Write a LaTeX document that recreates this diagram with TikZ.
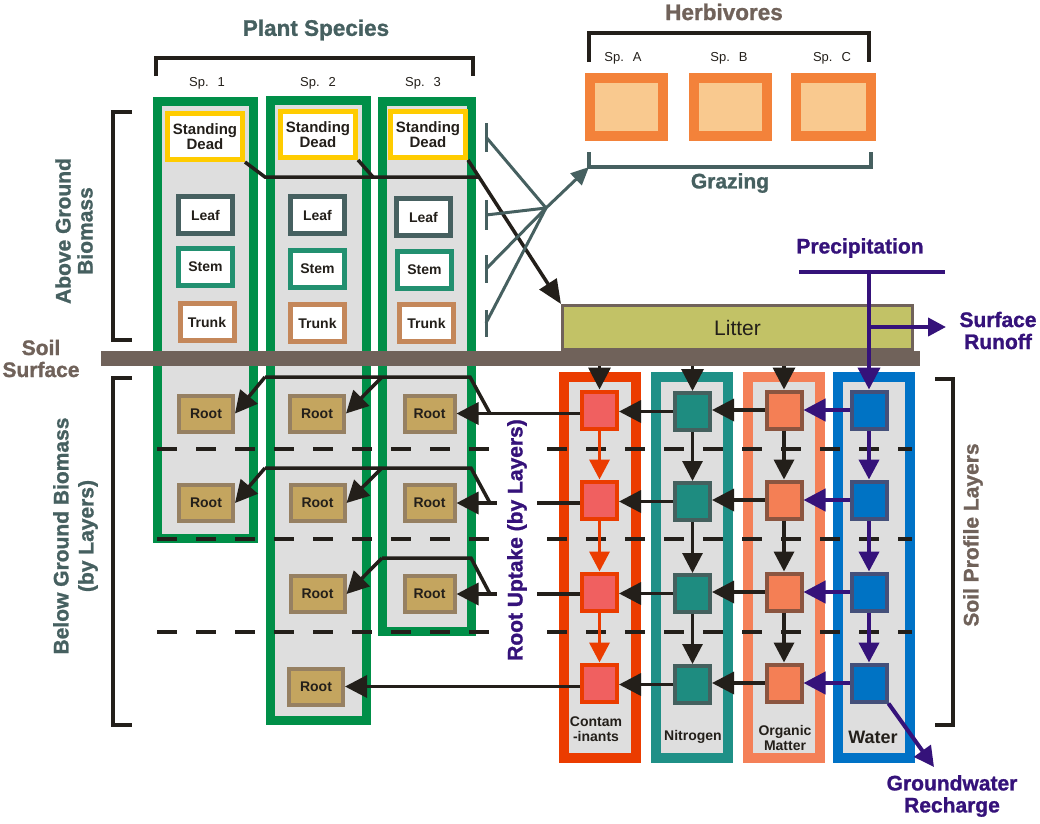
\documentclass[tikz,border=0pt]{standalone}
\usepackage{fontspec}
\setmainfont{Liberation Sans}
\newfontfamily\heavyfont[FakeBold=1.2]{Liberation Sans Bold}
\usetikzlibrary{arrows.meta}
\newcommand{\myfs}[2]{\fontsize{#1}{#2}\selectfont}
\definecolor{slate}{RGB}{70,96,96}
\definecolor{brgray}{RGB}{112,98,90}
\definecolor{purp}{RGB}{53,18,122}
\definecolor{pgreen}{RGB}{0,143,72}
\definecolor{lgray}{RGB}{222,222,222}
\definecolor{yel}{RGB}{255,204,0}
\definecolor{stemc}{RGB}{34,144,112}
\definecolor{trunkc}{RGB}{196,135,90}
\definecolor{rootfill}{RGB}{196,165,95}
\definecolor{rootbd}{RGB}{150,128,98}
\definecolor{horange}{RGB}{243,130,58}
\definecolor{hpeach}{RGB}{249,201,143}
\definecolor{litterc}{RGB}{194,194,102}
\definecolor{contc}{RGB}{235,60,0}
\definecolor{contbox}{RGB}{240,96,96}
\definecolor{nitc}{RGB}{31,144,135}
\definecolor{nitbox}{RGB}{30,140,128}
\definecolor{nitbd}{RGB}{68,96,94}
\definecolor{orgc}{RGB}{244,128,88}
\definecolor{orgbox}{RGB}{244,127,85}
\definecolor{orgbd}{RGB}{139,85,64}
\definecolor{watc}{RGB}{0,114,198}
\definecolor{watbox}{RGB}{0,115,196}
\definecolor{watbd}{RGB}{68,80,122}
\definecolor{ink}{RGB}{35,31,26}
\begin{document}
\begin{tikzpicture}[x=1pt,y=-1pt,
  bx/.style={draw, inner sep=0pt},
  pcol/.style={bx, draw=pgreen, fill=lgray, line width=9pt, minimum width=96pt},
  scol/.style={bx, fill=lgray, line width=10pt, minimum width=72pt, minimum height=381pt},
  sdbox/.style={bx, draw=yel, fill=white, line width=5pt, minimum width=75pt, minimum height=46pt, align=center, text=ink, font=\myfs{15}{15}\bfseries},
  lbox/.style={bx, fill=white, line width=5pt, minimum width=54pt, minimum height=37pt, text=ink, font=\myfs{14}{14}\bfseries},
  rbox/.style={bx, fill=rootfill, draw=rootbd, line width=4pt, minimum width=54pt, minimum height=36pt, text=ink, font=\myfs{14}{14}\bfseries},
  hbox/.style={bx, draw=horange, fill=hpeach, line width=10pt, minimum width=73pt, minimum height=58pt},
  sbox/.style={bx, line width=4pt, minimum width=35pt, minimum height=37pt},
  lab/.style={inner sep=0pt, align=center, text=ink, font=\myfs{14}{15}\bfseries},
  ttl/.style={inner sep=0pt, align=center, font=\heavyfont\myfs{21}{22}},
  spl/.style={inner sep=0pt, text=ink, font=\myfs{13}{13}},
  ln/.style={draw=ink, line width=3.5pt},
  arr/.style={ln, -{Triangle[length=22pt,width=22pt]}},
  redarr/.style={draw=contc, line width=3.5pt, -{Triangle[length=20pt,width=20pt]}},
  purpln/.style={draw=purp, line width=4pt},
  purparr/.style={purpln, -{Triangle[length=22pt,width=22pt]}},
  graz/.style={draw=slate, line width=3pt},
  brk/.style={draw=ink, line width=4pt},
  dsh/.style={draw=ink, line width=4pt, dash pattern=on 20pt off 19pt}
]
\useasboundingbox (0,0) rectangle (1040,823);

% plant columns
\node[pcol, minimum height=437pt] (pc1) at (205.5,320) {};
\node[pcol, minimum height=620pt] (pc2) at (318.5,410.5) {};
\node[pcol, minimum width=89pt, minimum height=530pt] (pc3) at (427,366.5) {};

% soil columns
\node[scol, draw=contc] (sc1) at (599.5,567) {};
\node[scol, draw=nitc] (sc2) at (692,567.5) {};
\node[scol, draw=orgc] (sc3) at (783.5,567.5) {};
\node[scol, draw=watc] (sc4) at (874,567.5) {};

% above ground boxes
\node[sdbox] (sd1) at (205,136.5) {Standing\\Dead};
\node[sdbox] (sd2) at (318,134.5) {Standing\\Dead};
\node[sdbox] (sd3) at (428,134.5) {Standing\\Dead};
\node[lbox, draw=slate] (lf1) at (205.5,215) {Leaf};
\node[lbox, draw=slate] (lf2) at (317.5,215) {Leaf};
\node[lbox, draw=slate] (lf3) at (423.5,217) {Leaf};
\node[lbox, draw=stemc] (st1) at (205.5,267) {Stem};
\node[lbox, draw=stemc] (st2) at (317.5,268.5) {Stem};
\node[lbox, draw=stemc] (st3) at (424.5,269.5) {Stem};
\node[lbox, draw=trunkc] (tr1) at (207,322) {Trunk};
\node[lbox, draw=trunkc] (tr2) at (317.5,323) {Trunk};
\node[lbox, draw=trunkc] (tr3) at (426.5,323) {Trunk};

% roots
\node[rbox] (r11) at (206,413.5) {Root};
\node[rbox] (r21) at (317,413.5) {Root};
\node[rbox, minimum width=50pt] (r31) at (429.5,413.5) {Root};
\node[rbox] (r12) at (206,503) {Root};
\node[rbox] (r22) at (317.5,503) {Root};
\node[rbox, minimum width=50pt] (r32) at (429.5,503) {Root};
\node[rbox] (r23) at (317.5,594) {Root};
\node[rbox, minimum width=50pt] (r33) at (429.5,594) {Root};
\node[rbox] (r24) at (316,686.5) {Root};

% herbivores
\node[hbox] (ha) at (626.5,107) {};
\node[hbox] (hb) at (730.5,107) {};
\node[hbox, minimum width=75pt] (hc) at (833.5,107) {};

% litter and soil surface
\node[bx, draw=brgray, fill=litterc, line width=3pt, minimum width=350pt, minimum height=44pt, text=ink, font=\myfs{21}{21}] (lit) at (737.5,327.5) {Litter};
\node[inner sep=0pt, fill=brgray, minimum width=819pt, minimum height=15pt] (bar) at (510.5,358.5) {};

% soil boxes
\foreach \i/\y in {1/410,2/500,3/592,4/683}{
  \node[sbox, draw=contc, fill=contbox] (c\i) at (599.5,\y) {};
  \node[sbox, draw=nitbd, fill=nitbox] (n\i) at (692.5,\y+1.5) {};
  \node[sbox, draw=orgbd, fill=orgbox] (o\i) at (784,\y) {};
  \node[sbox, draw=watbd, fill=watbox] (w\i) at (869,\y) {};
}

% soil labels
\node[lab] (lc) at (596,729.5) {Contam\\-inants};
\node[lab] (ln) at (693,737) {Nitrogen};
\node[lab] (lo) at (785,737.5) {Organic\\Matter};
\node[lab, font=\myfs{18}{18}\bfseries] (lw) at (873,737) {Water};

% layer dashed lines
\draw[dsh] (157,449) -- (912,449);
\draw[dsh] (157,539) -- (912,539);
\draw[dsh] (157,632) -- (912,632);

% brackets
\draw[brk] (156,76) -- (156,58) -- (473,58) -- (473,76);
\draw[brk] (589,62) -- (589,33) -- (869,33) -- (869,62);
\coordinate (gcorner) at (589,167);
\draw[draw=slate, line width=4pt] (589,152) -- (gcorner) -- (871,167) -- (871,152);
\draw[brk] (132,112) -- (113,112) -- (113,340) -- (132,340);
\draw[brk] (132,378) -- (113,378) -- (113,725) -- (132,725);
\draw[brk] (935,379) -- (953,379) -- (953,725) -- (935,725);

% standing dead to litter
\coordinate (sdk) at (265,177);
\coordinate (sdj) at (479,177);
\coordinate (sdk2) at (373,177);
\draw[ln] (sd1.south east) -- (sdk) -- (sdj);
\draw[ln] (sd2.south east) -- (sdk2);
\draw[ln, -{Triangle[length=24pt,width=20pt]}] (sd3.south east) -- (lit.north west);

% grazing
\coordinate (gb1) at (486,137);
\coordinate (gb2) at (486,215);
\coordinate (gb3) at (486,269);
\coordinate (gb4) at (486,323);
\coordinate (ghub) at (546,208);
\draw[graz] (486,123) -- (486,152);
\draw[graz] (486,200) -- (486,230);
\draw[graz] (486,255) -- (486,283);
\draw[graz] (486,310) -- (486,337);
\foreach \g in {gb1,gb2,gb3,gb4} \draw[graz] (\g) -- (ghub);
\draw[graz, -{Triangle[length=18pt,width=16pt]}] (ghub) -- (gcorner);

% precipitation and runoff
\coordinate (pl) at (799,272);
\coordinate (pr) at (945,272);
\coordinate (pj) at (869,272);
\coordinate (rj) at (869,327);
\coordinate (rtip) at (946,327);
\draw[purpln] (pl) -- (pr);
\draw[purparr] (pj) -- (w1.north);
\draw[purparr, -{Triangle[length=18pt,width=18pt]}] (rj) -- (rtip);

% litter into soil
\draw[arr] (c1.north |- bar.south) -- (c1.north);
\draw[arr] (n1.north |- bar.south) -- (n1.north);
\draw[arr] (o1.north |- bar.south) -- (o1.north);

% soil flows
\foreach \i in {1,2,3,4}{
  \draw[purparr] (w\i.west) -- (o\i.east);
  \draw[arr] (o\i.west) -- (n\i.east |- o\i.west);
  \draw[arr] (n\i.west) -- (c\i.east |- n\i.west);
}
\foreach \i/\j in {1/2,2/3,3/4}{
  \draw[redarr] (c\i.south) -- (c\j.north);
  \draw[arr, line width=3pt, -{Triangle[length=20pt,width=20pt]}] (n\i.south) -- (n\j.north);
  \draw[arr, -{Triangle[length=20pt,width=20pt]}] (o\i.south) -- (o\j.north);
  \draw[purparr, -{Triangle[length=20pt,width=20pt]}] (w\i.south) -- (w\j.north);
}
\coordinate (gwtip) at (934,767);
\draw[purparr, -{Triangle[length=20pt,width=20pt]}] (w4.south east) -- (gwtip);

% root uptake
\draw[arr] (c1.west |- r31.east) -- (r31.east);
\draw[arr] (c2.west |- r32.east) -- (r32.east);
\draw[arr] (c3.west |- r33.east) -- (r33.east);
\draw[arr] (c4.west |- r24.east) -- (r24.east);
\coordinate (b1a) at (490,413.5);
\coordinate (b1b) at (470,377);
\coordinate (b1c) at (382,377);
\coordinate (b1d) at (265,377);
\draw[ln] (b1a) -- (b1b) -- (b1d);
\draw[arr] (b1d) -- (r11.east);
\draw[arr] (b1c) -- (r21.east);
\coordinate (b2a) at (490,503);
\coordinate (b2b) at (471,468);
\coordinate (b2c) at (382,468);
\coordinate (b2d) at (265,468);
\draw[ln] (b2a) -- (b2b) -- (b2d);
\draw[arr] (b2d) -- (r12.east);
\draw[arr] (b2c) -- (r22.east);
\coordinate (b3a) at (490,594);
\coordinate (b3b) at (471,558);
\coordinate (b3c) at (382,558);
\draw[ln] (b3a) -- (b3b) -- (b3c);
\draw[arr] (b3c) -- (r23.east);

% species labels
\node[spl] (sp1) at (207,83) {Sp.\hspace{9pt}1};
\node[spl] (sp2) at (318,83) {Sp.\hspace{9pt}2};
\node[spl] (sp3) at (423,83) {Sp.\hspace{9pt}3};
\node[spl] (spa) at (623,58) {Sp.\hspace{9pt}A};
\node[spl] (spb) at (729,58) {Sp.\hspace{9pt}B};
\node[spl] (spc) at (832,58) {Sp.\hspace{9pt}C};

% titles
\node[ttl, text=slate, font=\heavyfont\myfs{22.5}{24}] (tplant) at (316,30) {Plant Species};
\node[ttl, text=brgray, font=\heavyfont\myfs{22.5}{24}] (therb) at (724,12) {Herbivores};
\node[ttl, text=slate] (tgraz) at (730,183) {Grazing};
\node[ttl, text=purp] (tprec) at (860,248) {Precipitation};
\node[ttl, text=purp] (trun) at (998,330.5) {Surface\\Runoff};
\node[ttl, text=brgray] (tsoil) at (41,358.5) {Soil\\Surface};
\node[ttl, text=slate, rotate=90] (tabove) at (74,231) {Above Ground\\Biomass};
\node[ttl, text=slate, rotate=90, font=\heavyfont\myfs{21}{25}] (tbelow) at (75.5,536) {Below Ground Biomass\\(by Layers)};
\node[ttl, text=purp, rotate=90, fill=white, inner xsep=2pt, inner ysep=10pt] (tupt) at (517,540) {Root Uptake (by Layers)};
\node[ttl, text=brgray, rotate=90] (tprof) at (973,535) {Soil Profile Layers};
\node[ttl, text=purp] (tgw) at (952,796) {Groundwater\\Recharge};
\end{tikzpicture}
\end{document}
